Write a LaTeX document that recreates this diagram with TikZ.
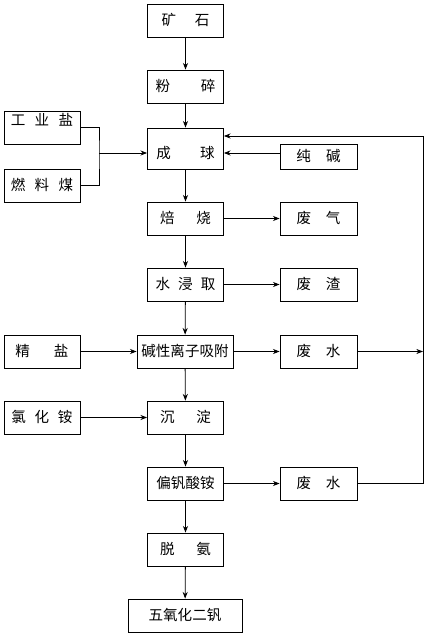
\documentclass[tikz,border=0pt]{standalone}
\usepackage{fontspec}
\newfontfamily\cjk{Noto Sans CJK SC}
\usepackage{tikz}
\usetikzlibrary{arrows.meta}
\tikzset{
  flow-box/.style={draw=black, line width=0.6pt, inner sep=0pt,
    minimum width=57pt, minimum height=24.75pt, text height=9.5pt, text depth=2pt,
    font=\cjk\fontsize{10.9pt}{13pt}\selectfont},
  flow-arrow/.style={-{Stealth[length=5pt,width=3.8pt]}, line width=0.6pt},
  flow-line/.style={line width=0.6pt}
}

\begin{document}
\begin{tikzpicture}[x=0.75pt, y=-0.75pt]
  \useasboundingbox (0,0) rectangle (426,640);

  % --- Main process column ---
  \node[flow-box] (kuangshi) at (185.5,20.5) {矿\hspace{1.3em}石};
  \node[flow-box] (fensui) at (185.5,86.5) {粉\hspace{2.1em}碎};
  \node[flow-box, minimum height=30.75pt, text height=16.3pt] (chengqiu) at (185.5,148.5) {成\hspace{2em}球};
  \node[flow-box] (beishao) at (185.5,218.5) {焙\hspace{1.5em}烧};
  \node[flow-box] (jinqu) at (185.5,284.5) {水\hspace{0.55em}浸\hspace{0.55em}取};
  \node[flow-box, minimum width=72pt] (xifu) at (185,351.5) {碱性离子吸附};
  \node[flow-box] (chendian) at (185.5,417.5) {沉\hspace{1.5em}淀};
  \node[flow-box] (pianfan) at (185.5,483.5) {偏钒酸铵};
  \node[flow-box] (tuoan) at (185.5,549.5) {脱\hspace{1.5em}氨};
  \node[flow-box, minimum width=85.5pt] (wuyang) at (185,615.5) {五氧化二钒};

  % --- Additives on the left ---
  \node[flow-box, text depth=13.2pt] (gongyeyan) at (42,127.5) {工\hspace{0.65em}业\hspace{0.65em}盐};
  \node[flow-box] (ranliaomei) at (42,185.5) {燃\hspace{0.65em}料\hspace{0.65em}煤};
  \node[flow-box] (jingyan) at (42,351.5) {精\hspace{1.65em}盐};
  \node[flow-box] (lvhuaan) at (42,417.5) {氯\hspace{0.6em}化\hspace{0.6em}铵};

  % --- Inputs and wastes on the right ---
  \node[flow-box, minimum width=57.75pt, minimum height=18.75pt] (chunjian) at (318.5,156.5) {纯\hspace{1.05em}碱};
  \node[flow-box, minimum width=57.75pt] (feiqi) at (318.5,218.5) {废\hspace{1em}气};
  \node[flow-box, minimum width=57.75pt] (feizha) at (318.5,284.5) {废\hspace{1em}渣};
  \node[flow-box, minimum width=57.75pt] (feishui) at (318.5,351.5) {废\hspace{1em}水};
  \node[flow-box, minimum width=57.75pt] (feishuib) at (318.5,483.5) {废\hspace{1em}水};

  % Junction points
  \coordinate (merge) at (99,153);
  \coordinate (ret) at (423,136);

  % Main flow
  \draw[flow-arrow] (kuangshi) -- (fensui);
  \draw[flow-arrow] (fensui) -- (chengqiu);
  \draw[flow-arrow] (chengqiu) -- (beishao);
  \draw[flow-arrow] (beishao) -- (jinqu);
  \draw[flow-arrow] (jinqu) -- (xifu);
  \draw[flow-arrow] (xifu) -- (chendian);
  \draw[flow-arrow] (chendian) -- (pianfan);
  \draw[flow-arrow] (pianfan) -- (tuoan);
  \draw[flow-arrow] (tuoan) -- (wuyang);

  % Feeds into pelletising
  \draw[flow-line] (gongyeyan.east) -| (merge) |- (ranliaomei.east);
  \draw[flow-arrow] (merge) -- (merge -| chengqiu.west);
  \draw[flow-arrow] (chunjian.west |- merge) -- (chengqiu.east |- merge);

  % Side feeds and wastes
  \draw[flow-arrow] (beishao) -- (feiqi);
  \draw[flow-arrow] (jinqu) -- (feizha);
  \draw[flow-arrow] (jingyan) -- (xifu);
  \draw[flow-arrow] (xifu) -- (feishui);
  \draw[flow-arrow] (lvhuaan) -- (chendian);
  \draw[flow-arrow] (pianfan) -- (feishuib);

  % Waste water recycled
  \draw[flow-arrow] (feishui.east) -- (feishui.east -| ret);
  \draw[flow-arrow] (feishuib.east) -| (ret) -- (ret -| chengqiu.east);
\end{tikzpicture}
\end{document}
